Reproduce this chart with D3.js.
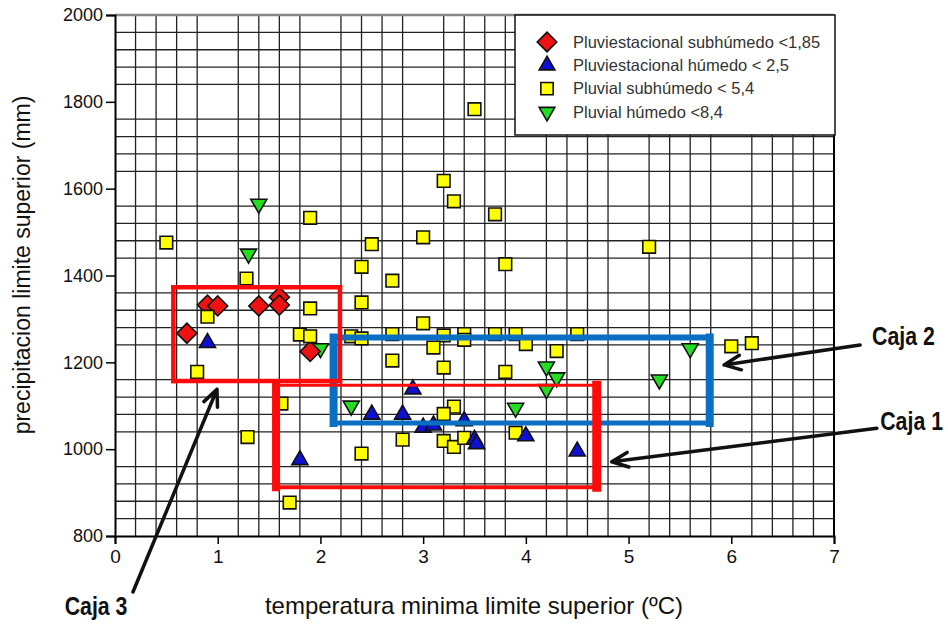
<!DOCTYPE html>
<html>
<head>
<meta charset="utf-8">
<title>precipitacion vs temperatura</title>
<style>
  body { margin: 0; background: #fff; }
  text { font-family: "Liberation Sans", Arial, sans-serif; }
</style>
</head>
<body>
<script src="https://cdn.jsdelivr.net/npm/d3@7"></script>
<script>
// series: [temperatura minima, precipitacion]
var categories = ['Pluviestacional subhúmedo <1,85', 'Pluviestacional húmedo < 2,5',
                  'Pluvial subhúmedo < 5,4', 'Pluvial húmedo <8,4'];

var pluviestSubhumedo = [[0.7,1267],[0.9,1332],[1.0,1330],[1.4,1330],[1.6,1350],[1.6,1332],[1.9,1225]];

var pluviestHumedo = [[0.9,1245],[1.8,975],[2.5,1080],[2.8,1080],[2.9,1138],[3.0,1050],[3.1,1055],
                      [3.4,1065],[3.5,1022],[3.52,1012],[4.0,1030],[4.5,995]];

var pluvialSubhumedo = [[0.5,1476],[1.9,1533],[1.28,1393],[0.9,1305],[1.9,1324],[1.8,1264],[1.9,1260],
                        [0.8,1178],[1.62,1105],[1.29,1028],[1.7,877],
                        [3.5,1783],[3.2,1618],[3.3,1571],[3.7,1541],[3.0,1488],[2.5,1472],[2.4,1420],
                        [3.8,1426],[2.7,1388],[2.4,1338],[3.0,1290],
                        [2.3,1260],[2.4,1255],[2.7,1265],[3.2,1262],[3.4,1265],[3.4,1252],[3.7,1265],
                        [3.9,1265],[4.5,1265],[3.1,1234],[4.0,1242],[4.3,1226],[2.7,1204],[3.2,1188],
                        [3.8,1178],[3.3,1098],[3.2,1081],[2.8,1022],[3.2,1019],[3.3,1005],[3.4,1026],
                        [3.9,1038],[2.4,990],[5.2,1466],[6.0,1237],[6.2,1244]];

var pluvialHumedo = [[1.4,1565],[1.3,1450],[2.0,1232],[2.3,1100],[3.9,1095],[4.2,1190],[4.2,1138],
                     [4.3,1165],[5.6,1232],[5.3,1160]];

var xTicks = [0, 1, 2, 3, 4, 5, 6, 7];
var yTicks = [800, 1000, 1200, 1400, 1600, 1800, 2000];

// cajas (en unidades de los ejes): [x1, x2, yBajo, yAlto]
var caja1 = [1.568, 4.69, 912, 1147];
var caja2 = [2.128, 5.79, 1060, 1257];
var caja3 = [0.568, 2.19, 1157, 1373];

// flechas y etiquetas: desde -> hasta
var flechas = [
  {desde: [7.254, 1240], hasta: [5.93, 1194]},
  {desde: [7.417, 1048], hasta: [4.836, 971]},
  {desde: [0.175, 671], hasta: [0.993, 1138]}
];
var etiquetas = [
  {texto: 'Caja 2', pos: [7.37, 1240]},
  {texto: 'Caja 1', pos: [7.45, 1044]},
  {texto: 'Caja 3', pos: [-0.49, 618]}
];

var W = 948, H = 624;
var svg = d3.select('body').append('svg').attr('width', W).attr('height', H);

var x = d3.scaleLinear().domain([0, 7]).range([115, 834]);
var y = d3.scaleLinear().domain([800, 2000]).range([536, 15]);

// rejilla (cada 0,2 y cada 40, sin las lineas principales)
var gx = d3.range(1, 35).map(function(i){ return i * 0.2; }).filter(function(v){ return Math.abs(v - Math.round(v)) > 0.01; });
var gy = d3.range(21, 50).map(function(i){ return i * 40; }).filter(function(v){ return v % 200 !== 0; });

svg.append('g').selectAll('line').data(gx).enter().append('line')
  .attr('x1', function(d){ return x(d); }).attr('x2', function(d){ return x(d); })
  .attr('y1', y(2000)).attr('y2', y(800))
  .attr('stroke', '#222').attr('stroke-width', 1.3);
svg.append('g').selectAll('line').data(gy).enter().append('line')
  .attr('y1', function(d){ return y(d); }).attr('y2', function(d){ return y(d); })
  .attr('x1', x(0)).attr('x2', x(7))
  .attr('stroke', '#222').attr('stroke-width', 1.3);

// marco
svg.append('line').attr('x1', x(0)).attr('x2', x(7)).attr('y1', y(2000)).attr('y2', y(2000))
  .attr('stroke', '#888').attr('stroke-width', 2.5);
svg.append('line').attr('x1', x(7)).attr('x2', x(7)).attr('y1', y(2000)).attr('y2', y(800))
  .attr('stroke', '#000').attr('stroke-width', 2);

// ejes
var xAxis = svg.append('g').attr('transform', 'translate(0,' + y(800) + ')')
  .call(d3.axisBottom(x).tickValues(xTicks).tickSize(8).tickPadding(6).tickFormat(d3.format('d')));
var yAxis = svg.append('g').attr('transform', 'translate(' + x(0) + ',0)')
  .call(d3.axisLeft(y).tickValues(yTicks).tickSize(9).tickPadding(3).tickFormat(d3.format('d')));
[xAxis, yAxis].forEach(function(a){
  a.select('.domain').attr('stroke', '#000').attr('stroke-width', 2);
  a.selectAll('.tick line').attr('stroke', '#000').attr('stroke-width', 1.5);
  a.selectAll('.tick text').attr('fill', '#111').style('font-family', '"Liberation Sans", Arial, sans-serif');
});
xAxis.selectAll('.tick text').style('font-size', '19px');
yAxis.selectAll('.tick text').style('font-size', '18px');

// simbolos
var simbolos = [
  {datos: pluvialHumedo, tipo: d3.symbolTriangle, area: 112, giro: 180, color: '#22dd22'},
  {datos: pluviestSubhumedo, tipo: d3.symbolSquare, area: 200, giro: 45, color: '#f01212'},
  {datos: pluvialSubhumedo, tipo: d3.symbolSquare, area: 160, giro: 0, color: '#ffff00'},
  {datos: pluviestHumedo, tipo: d3.symbolTriangle, area: 112, giro: 0, color: '#1010d0'}
];
simbolos.forEach(function(s){
  svg.append('g').selectAll('path').data(s.datos).enter().append('path')
    .attr('d', d3.symbol().type(s.tipo).size(s.area))
    .attr('transform', function(d){ return 'translate(' + x(d[0]) + ',' + y(d[1]) + ') rotate(' + s.giro + ')'; })
    .attr('fill', s.color).attr('stroke', '#111').attr('stroke-width', 1.6);
});

// cajas: cada lado con su grosor [izq, der, arriba, abajo]
function caja(c, color, grosor){
  var g = svg.append('g').attr('stroke', color).attr('stroke-linecap', 'square');
  var x1 = x(c[0]), x2 = x(c[1]), yt = y(c[3]), yb = y(c[2]);
  g.append('line').attr('x1', x1).attr('x2', x1).attr('y1', yt).attr('y2', yb).attr('stroke-width', grosor[0]);
  g.append('line').attr('x1', x2).attr('x2', x2).attr('y1', yt).attr('y2', yb).attr('stroke-width', grosor[1]);
  g.append('line').attr('x1', x1).attr('x2', x2).attr('y1', yt).attr('y2', yt).attr('stroke-width', grosor[2]);
  g.append('line').attr('x1', x1).attr('x2', x2).attr('y1', yb).attr('y2', yb).attr('stroke-width', grosor[3]);
}
caja(caja2, '#0a6fc2', [8, 8, 6, 5]);
caja(caja3, '#ff0a0a', [4.5, 4.5, 4.5, 4.5]);
caja(caja1, '#ff0a0a', [8, 9, 3, 4]);

// flechas
flechas.forEach(function(f){
  var x0 = x(f.desde[0]), y0 = y(f.desde[1]), x1 = x(f.hasta[0]), y1 = y(f.hasta[1]);
  var ang = Math.atan2(y0 - y1, x0 - x1), L = 18, a = 0.42;
  var b1 = [x1 + L * Math.cos(ang + a), y1 + L * Math.sin(ang + a)];
  var b2 = [x1 + L * Math.cos(ang - a), y1 + L * Math.sin(ang - a)];
  svg.append('path')
    .attr('d', 'M' + x0 + ',' + y0 + 'L' + x1 + ',' + y1 + 'M' + b1 + 'L' + x1 + ',' + y1 + 'L' + b2)
    .attr('fill', 'none').attr('stroke', '#111').attr('stroke-width', 3.5)
    .attr('stroke-linecap', 'round').attr('stroke-linejoin', 'round');
});
// etiquetas estrechas (escala horizontal)
svg.append('g').selectAll('text').data(etiquetas).enter().append('text')
  .attr('transform', function(d){ return 'translate(' + x(d.pos[0]) + ',' + y(d.pos[1]) + ') scale(0.82,1)'; })
  .attr('font-size', 26).attr('font-weight', 'bold').attr('fill', '#111')
  .text(function(d){ return d.texto; });

// leyenda
var ley = svg.append('g');
ley.append('rect').attr('x', 515).attr('y', 15).attr('width', 320).attr('height', 120)
  .attr('fill', '#fff').attr('stroke', '#111').attr('stroke-width', 1.5);
var orden = [simbolos[1], simbolos[3], simbolos[2], simbolos[0]];
orden.forEach(function(s, i){
  var cy = 42 + i * 23.3;
  ley.append('path').attr('d', d3.symbol().type(s.tipo).size(s.area * 0.95))
    .attr('transform', 'translate(547,' + cy + ') rotate(' + s.giro + ')')
    .attr('fill', s.color).attr('stroke', '#111').attr('stroke-width', 1.6);
  ley.append('text').attr('x', 573).attr('y', cy).attr('dy', '0.35em')
    .attr('font-size', 16.5).attr('fill', '#333').text(categories[i]);
});

// titulos
svg.append('text').attr('x', 474).attr('y', 614).attr('text-anchor', 'middle')
  .attr('font-size', 24).attr('fill', '#111').text('temperatura minima limite superior (ºC)');
svg.append('text').attr('transform', 'translate(30,265) rotate(-90)').attr('text-anchor', 'middle')
  .attr('font-size', 23).attr('fill', '#111').text('precipitacion limite superior (mm)');
</script>
</body>
</html>
